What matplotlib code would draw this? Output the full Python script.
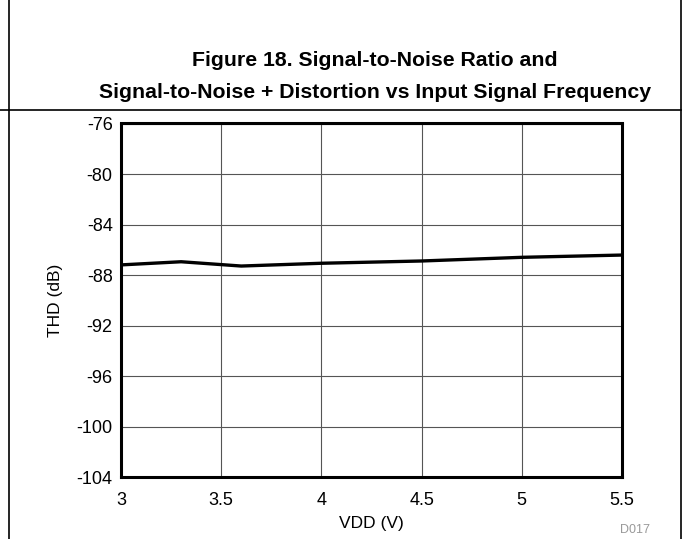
import matplotlib.pyplot as plt
from matplotlib.lines import Line2D

plt.rcParams["font.family"] = ["Liberation Sans", "DejaVu Sans"]
plt.rcParams["axes.unicode_minus"] = False

vdd = [3.0, 3.3, 3.6, 4.0, 4.5, 5.0, 5.5]
thd = [-87.2, -86.95, -87.29, -87.07, -86.89, -86.6, -86.42]
x_ticks = [3, 3.5, 4, 4.5, 5, 5.5]
x_labels = ["3", "3.5", "4", "4.5", "5", "5.5"]
y_ticks = [-104, -100, -96, -92, -88, -84, -80, -76]

W, H = 683, 539
fig = plt.figure(figsize=(W / 100, H / 100), dpi=100)
ax = fig.add_axes([121 / W, 1 - 477 / H, (622 - 121) / W, (477 - 123.5) / H])

ax.plot(vdd, thd, color="black", lw=2.4, solid_capstyle="butt")
ax.set_xlim(3, 5.5)
ax.set_ylim(-104, -76)
ax.set_xticks(x_ticks, x_labels)
ax.set_yticks(y_ticks)
ax.grid(True, color="#555555", lw=0.8)
ax.set_axisbelow(True)
ax.tick_params(length=0, labelsize=13)
ax.tick_params(axis="x", pad=11)
ax.tick_params(axis="y", pad=6)
for s in ax.spines.values():
    s.set_linewidth(2.2)
ax.set_xlabel("VDD (V)", fontsize=12.5, labelpad=5)
ax.set_ylabel("THD (dB)", fontsize=12.5, labelpad=10)

# page-style frame lines
fig.add_artist(Line2D([9 / W, 9 / W], [0, 1], color="black", lw=1.2))
fig.add_artist(Line2D([681 / W, 681 / W], [0, 1], color="black", lw=1.2))
fig.add_artist(Line2D([0, 681 / W], [1 - 110 / H, 1 - 110 / H], color="black", lw=1.2))

fig.text(375 / W, 1 - 66 / H, "Figure 18. Signal-to-Noise Ratio and",
         ha="center", va="baseline", fontsize=15.3, fontweight="bold")
fig.text(375 / W, 1 - 98 / H, "Signal-to-Noise + Distortion vs Input Signal Frequency",
         ha="center", va="baseline", fontsize=15.3, fontweight="bold")
fig.text(650 / W, 1 - 533 / H, "D017", ha="right", va="baseline",
         fontsize=9, color="#999999")

fig.savefig("out.png", dpi=100)
